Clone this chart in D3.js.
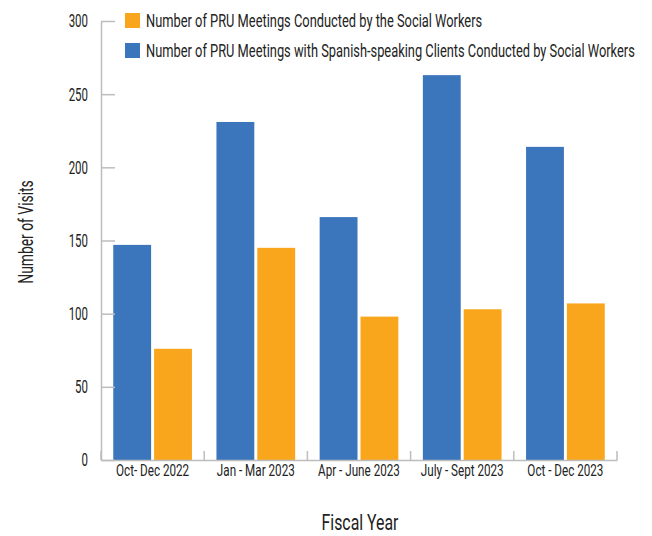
<!DOCTYPE html>
<meta charset="utf-8">
<body style="margin:0">
<style>
body { background: #fff; }
text { font-family: Roboto, "Liberation Sans", sans-serif; fill: #222; }
.axis path, .axis line { stroke: #bdbdbd; stroke-width: 1.5px; }
</style>
<script src="https://cdn.jsdelivr.net/npm/d3@7"></script>
<script>

var categories = ["Oct- Dec 2022", "Jan - Mar 2023", "Apr - June 2023", "July - Sept 2023", "Oct - Dec 2023"];
var spanishMeetings = [147, 231, 166, 263, 214];
var allMeetings = [76, 145, 98, 103, 107];
var seriesNames = [
  "Number of PRU Meetings with Spanish-speaking Clients Conducted by Social Workers",
  "Number of PRU Meetings Conducted by the Social Workers"
];
var yTicks = [0, 50, 100, 150, 200, 250, 300];

var colors = ["#3b76bc", "#f9a61c"];

var width = 652, height = 536;
var margin = {top: 21, right: 35, bottom: 76, left: 101};

var svg = d3.select("body").append("svg")
    .attr("width", width)
    .attr("height", height);

var x = d3.scaleBand()
    .domain(categories)
    .range([margin.left, width - margin.right]);

var xs = d3.scaleBand()
    .domain([0, 1])
    .range([0, x.bandwidth()])
    .paddingInner(0.073)
    .paddingOuter(0.3);

var y = d3.scaleLinear()
    .domain([0, 300])
    .range([height - margin.bottom, margin.top]);

// the source font is condensed, so squeeze text horizontally
function squeeze(sx) {
  return function(sel) {
    sel.each(function() {
      var t = d3.select(this);
      var x0 = +t.attr("x") || 0;
      t.attr("x", x0 / sx).attr("transform", (t.attr("transform") || "") + " scale(" + sx + ",1)");
    });
  };
}

// bars
var rows = categories.map(function(c, i) { return [spanishMeetings[i], allMeetings[i]]; });

var groups = svg.selectAll(".cat")
    .data(rows)
  .enter().append("g")
    .attr("class", "cat")
    .attr("transform", function(d, i) { return "translate(" + x(categories[i]) + ",0)"; });

groups.selectAll("rect")
    .data(function(d) { return d; })
  .enter().append("rect")
    .attr("x", function(d, j) { return xs(j); })
    .attr("width", xs.bandwidth())
    .attr("y", function(d) { return y(d); })
    .attr("height", function(d) { return y(0) - y(d); })
    .style("fill", function(d, j) { return colors[j]; });

// y axis
var yAxis = svg.append("g")
    .attr("class", "axis")
    .attr("transform", "translate(" + margin.left + ",0)")
    .call(d3.axisLeft(y).tickValues(yTicks).tickSizeInner(-14).tickSizeOuter(0).tickPadding(13));
yAxis.selectAll("text")
    .style("font-size", "18.5px")
    .call(squeeze(0.62));

// x axis
var xAxis = svg.append("g")
    .attr("class", "axis")
    .attr("transform", "translate(0," + y(0) + ")")
    .call(d3.axisBottom(x).tickSize(0).tickPadding(5));
xAxis.selectAll("text")
    .style("font-size", "16px")
    .call(squeeze(0.73));

var bounds = categories.map(function(c) { return x(c); }).concat([x.range()[1]]);
xAxis.selectAll(".bound")
    .data(bounds)
  .enter().append("line")
    .attr("class", "bound")
    .attr("x1", function(d) { return d; })
    .attr("x2", function(d) { return d; })
    .attr("y1", 0)
    .attr("y2", -9);

// legend
var legend = svg.selectAll(".legend")
    .data([1, 0])
  .enter().append("g")
    .attr("class", "legend")
    .attr("transform", function(d, i) { return "translate(125," + (13 + i * 30) + ")"; });

legend.append("rect")
    .attr("width", 15)
    .attr("height", 15)
    .style("fill", function(d) { return colors[d]; });

legend.append("text")
    .attr("x", 21)
    .attr("y", 14)
    .style("font-size", "18px")
    .text(function(d) { return seriesNames[d]; })
    .call(squeeze(0.715));

// titles
svg.append("text")
    .attr("transform", "translate(33,232) rotate(-90)")
    .attr("text-anchor", "middle")
    .style("font-size", "21px")
    .text("Number of Visits")
    .call(squeeze(0.66));

svg.append("text")
    .attr("transform", "translate(" + ((x.range()[0] + x.range()[1]) / 2 + 1) + ",530)")
    .attr("text-anchor", "middle")
    .style("font-size", "22px")
    .text("Fiscal Year")
    .call(squeeze(0.72));

</script>
